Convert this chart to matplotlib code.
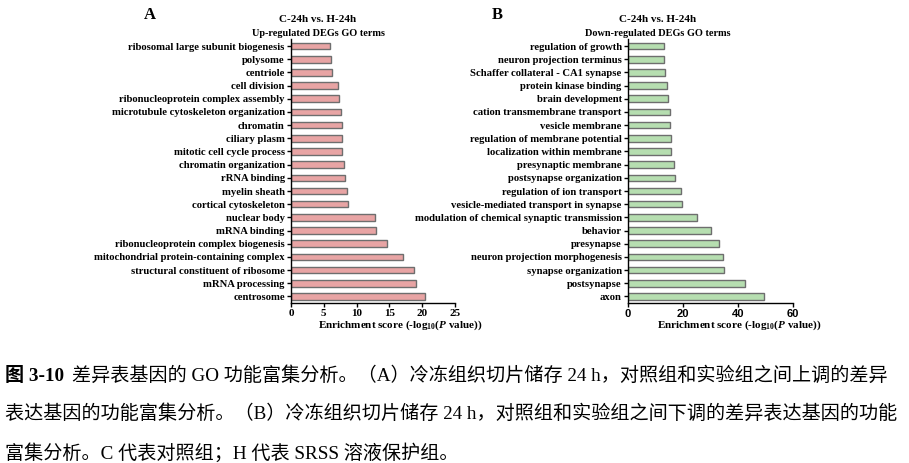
import matplotlib
matplotlib.use("Agg")
import matplotlib.pyplot as plt

# panel A: up-regulated terms, top to bottom as drawn
up_terms = [
    "ribosomal large subunit biogenesis", "polysome", "centriole", "cell division",
    "ribonucleoprotein complex assembly", "microtubule cytoskeleton organization",
    "chromatin", "ciliary plasm", "mitotic cell cycle process", "chromatin organization",
    "rRNA binding", "myelin sheath", "cortical cytoskeleton", "nuclear body",
    "mRNA binding", "ribonucleoprotein complex biogenesis",
    "mitochondrial protein-containing complex", "structural constituent of ribosome",
    "mRNA processing", "centrosome",
]
up_scores = [5.9, 6.1, 6.3, 7.2, 7.3, 7.6, 7.7, 7.7, 7.8, 8.1,
             8.2, 8.5, 8.7, 12.8, 13.0, 14.7, 17.1, 18.8, 19.1, 20.4]

# panel B: down-regulated terms, top to bottom as drawn
down_terms = [
    "regulation of growth", "neuron projection terminus", "Schaffer collateral - CA1 synapse",
    "protein kinase binding", "brain development", "cation transmembrane transport",
    "vesicle membrane", "regulation of membrane potential", "localization within membrane",
    "presynaptic membrane", "postsynapse organization", "regulation of ion transport",
    "vesicle-mediated transport in synapse", "modulation of chemical synaptic transmission",
    "behavior", "presynapse", "neuron projection morphogenesis", "synapse organization",
    "postsynapse", "axon",
]
down_scores = [13.1, 13.1, 13.6, 14.2, 14.7, 15.1, 15.1, 15.7, 15.5, 16.7,
               17.2, 19.3, 19.8, 25.2, 30.0, 33.1, 34.6, 34.9, 42.4, 49.3]

up_ticks = [0, 5, 10, 15, 20, 25]
down_ticks = [0, 20, 40, 60]

caption = [
    "3-10",
    "差异表基因的 GO 功能富集分析。（A）冷冻组织切片储存 24 h，对照组和实验组之间上调的差异",
    "表达基因的功能富集分析。（B）冷冻组织切片储存 24 h，对照组和实验组之间下调的差异表达基因的功能",
    "富集分析。C 代表对照组；H 代表 SRSS 溶液保护组。",
]

W, H = 909, 463
SERIF = "Liberation Serif"
CJK = ["Liberation Serif", "Noto Sans CJK SC"]
CAP_SIZE = 13.75

plt.rcParams["mathtext.fontset"] = "custom"
plt.rcParams["mathtext.rm"] = "Liberation Serif:bold"
plt.rcParams["mathtext.bf"] = "Liberation Serif:bold"
plt.rcParams["mathtext.it"] = "Liberation Serif:italic:bold"

fig = plt.figure(figsize=(W / 100, H / 100), dpi=100)


def px_axes(x0, x1, y0, y1):
    return fig.add_axes([x0 / W, 1 - y1 / H, (x1 - x0) / W, (y1 - y0) / H])


def panel(ax, terms, scores, ticks, color, tick_family):
    y = list(range(len(terms)))
    ax.barh(y, scores, height=0.5, color=color, edgecolor="#6e6e6e", linewidth=1.0)
    ax.set_ylim(len(terms) - 0.5, -0.5)
    ax.set_xlim(ticks[0], ticks[-1])
    ax.set_yticks(y)
    ax.set_yticklabels(terms, fontfamily=SERIF, fontweight="bold", fontsize=7.7)
    ax.set_xticks(ticks)
    ax.set_xticklabels([str(t) for t in ticks], fontfamily=tick_family,
                       fontweight="bold", fontsize=8)
    for s in ("top", "right"):
        ax.spines[s].set_visible(False)
    for s in ("left", "bottom"):
        ax.spines[s].set_linewidth(1.0)
    ax.tick_params(axis="both", length=3, width=1.0, pad=1.5)
    ax.tick_params(axis="x", pad=1)


axA = px_axes(291, 455, 39.5, 303)
panel(axA, up_terms, up_scores, up_ticks, "#e8a4a4", SERIF)
axB = px_axes(628, 793, 39.5, 303)
panel(axB, down_terms, down_scores, down_ticks, "#b6deb0", "Liberation Sans")

xlabel = r"Enrichment score (-log$_{10}$($\mathit{P}$ value))"
for cx in (400, 739):
    fig.text(cx / W, 1 - 325 / H, xlabel, ha="center", va="center",
             fontfamily=SERIF, fontweight="bold", fontsize=8)

for cx, sub in ((318, "Up-regulated DEGs GO terms"), (658, "Down-regulated DEGs GO terms")):
    fig.text(cx / W, 1 - 20 / H, "C-24h vs. H-24h", ha="center", va="center",
             fontfamily=SERIF, fontweight="bold", fontsize=8)
    fig.text(cx / W, 1 - 33 / H, sub, ha="center", va="center",
             fontfamily=SERIF, fontweight="bold", fontsize=7.4)

fig.text(150 / W, 1 - 15 / H, "A", ha="center", va="center",
         fontfamily=SERIF, fontweight="bold", fontsize=12)
fig.text(497 / W, 1 - 15 / H, "B", ha="center", va="center",
         fontfamily=SERIF, fontweight="bold", fontsize=12)

# caption below the panels
t = fig.text(5 / W, 1 - 376 / H, "图 " + caption[0], ha="left", va="center",
             family=CJK, fontweight="bold", fontsize=CAP_SIZE)
fig.canvas.draw()
bb = t.get_window_extent()
fig.text((bb.x1 + 8) / W, 1 - 376 / H, caption[1], ha="left", va="center",
         family=CJK, fontsize=CAP_SIZE)
fig.text(5 / W, 1 - 414 / H, caption[2], ha="left", va="center",
         family=CJK, fontsize=CAP_SIZE)
fig.text(5 / W, 1 - 453 / H, caption[3], ha="left", va="center",
         family=CJK, fontsize=CAP_SIZE)

fig.savefig("out.png", dpi=100)
